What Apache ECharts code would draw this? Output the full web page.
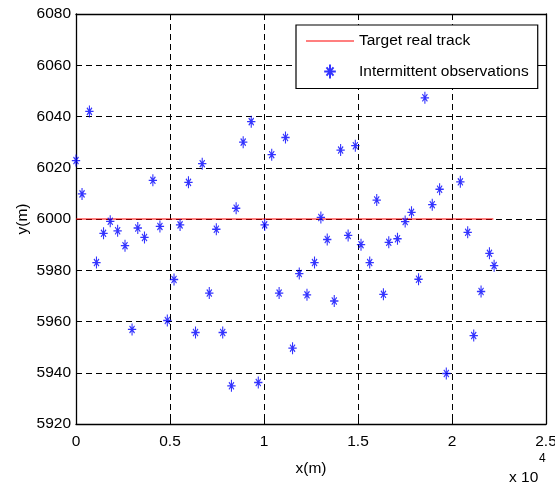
<!DOCTYPE html>
<html>
<head>
<meta charset="utf-8">
<script src="https://cdn.jsdelivr.net/npm/echarts@6/dist/echarts.min.js"></script>
<style>
  html, body { margin: 0; padding: 0; background: #fff; }
  #chart { width: 555px; height: 488px; }
</style>
</head>
<body>
<div id="chart"></div>
<script>
var trackX = [0, 22200];
var trackY = [6000, 6000];

var obsX = [0, 321, 714, 1089, 1464, 1821, 2214, 2607, 2982, 3286,
  3643, 4089, 4464, 4857, 5214, 5536, 5982, 6357, 6714, 7089,
  7464, 7804, 8268, 8518, 8893, 9321, 9696, 10036, 10411, 10804,
  11143, 11518, 11876, 12286, 12687, 13025, 13363, 13737, 14075, 14475,
  14858, 15160, 15623, 15996, 16352, 16637, 17100, 17509, 17846, 18220,
  18558, 18950, 19341, 19697, 20444, 20835, 21155, 21546, 21991, 22240];
var obsY = [6022.8, 6009.8, 6042, 5983, 5994.4, 5999.1, 5995.4, 5989.6, 5956.9, 5996.5,
  5992.8, 6015.1, 5997.1, 5960.4, 5976.4, 5997.7, 6014.3, 5955.7, 6021.6, 5971.1,
  5996, 5955.7, 5934.9, 6004.2, 6030, 6038, 5936.2, 5997.7, 6025.1, 5971.1,
  6031.8, 5949.6, 5978.7, 5970.4, 5983, 6000.6, 5992, 5968, 6026.9, 5993.6,
  6028.6, 5990, 5983, 6007.4, 5970.6, 5990.9, 5992.3, 5999, 6002.6, 5976.5,
  6047.3, 6005.6, 6011.6, 5939.7, 6014.5, 5994.8, 5954.5, 5971.7, 5986.6, 5981.8];

var seriesNames = ["Target real track", "Intermittent observations"];

var font = "'Liberation Sans', Arial, sans-serif";
var fs = 15.5;
var star = "path://M0,-6L0,6M-5,0L5,0M-3,-3.6L3,3.6M-3,3.6L3,-3.6";

var chartDom = document.getElementById("chart");
var chart = echarts.init(chartDom);

function pairs(xs, ys) {
  var out = [];
  for (var i = 0; i < xs.length; i++) out.push([xs[i], ys[i]]);
  return out;
}

var dashed = { show: true, lineStyle: { color: "#000", width: 1, type: [6, 4] } };
var axLine = { show: true, onZero: false, lineStyle: { color: "#000", width: 1.3 } };
var inTick = { show: true, inside: true, length: 5, lineStyle: { color: "#000" } };

var option = {
  animation: false,
  backgroundColor: "#fff",
  textStyle: { fontFamily: font },
  grid: {
    left: 76, right: 9, top: 14, bottom: 64,
    outerBoundsMode: "none",
    show: false
  },
  legend: {
    orient: "vertical",
    left: 296,
    top: 25,
    padding: [8, 9, 9, 10],
    itemWidth: 48,
    itemHeight: 14,
    itemGap: 14.5,
    borderColor: "#000",
    borderWidth: 1.2,
    backgroundColor: "#fff",
    textStyle: { fontFamily: font, fontSize: fs, color: "#000" },
    data: [
      { name: seriesNames[0], icon: "path://M0,0L48,0L48,1.2L0,1.2Z" },
      { name: seriesNames[1] }
    ]
  },
  xAxis: [{
    type: "value",
    min: 0, max: 25000, interval: 5000,
    name: "x(m)",
    nameLocation: "middle",
    nameGap: 37,
    nameMoveOverlap: false,
    nameTextStyle: { fontFamily: font, fontSize: fs, color: "#000" },
    axisLine: axLine,
    axisTick: inTick,
    axisLabel: {
      margin: 10, fontFamily: font, fontSize: fs, color: "#000",
      formatter: function (v) { return String(v / 10000); }
    },
    splitLine: dashed
  }, {
    type: "value", position: "top",
    min: 0, max: 25000, interval: 5000,
    axisLine: axLine,
    axisTick: inTick,
    axisLabel: { show: false },
    splitLine: { show: false }
  }],
  yAxis: [{
    type: "value",
    min: 5920, max: 6080, interval: 20,
    name: "y(m)",
    nameLocation: "middle",
    nameGap: 45,
    nameMoveOverlap: false,
    nameTextStyle: { fontFamily: font, fontSize: fs, color: "#000" },
    axisLine: axLine,
    axisTick: inTick,
    axisLabel: {
      margin: 5, fontFamily: font, fontSize: fs, color: "#000",
      formatter: function (v) { return String(v); }
    },
    splitLine: dashed
  }, {
    type: "value", position: "right",
    min: 5920, max: 6080, interval: 20,
    axisLine: axLine,
    axisTick: inTick,
    axisLabel: { show: false },
    splitLine: { show: false }
  }],
  graphic: [{
    type: "text",
    left: 509,
    top: 470,
    style: { text: "x 10", fontFamily: font, fontSize: fs, fill: "#000" }
  }, {
    type: "text",
    left: 539,
    top: 453,
    style: { text: "4", fontFamily: font, fontSize: 12, fill: "#000" }
  }],
  series: [{
    name: seriesNames[0],
    type: "line",
    data: pairs(trackX, trackY),
    symbol: "none",
    z: 3,
    lineStyle: { color: "#ff0000", width: 1.2 },
    itemStyle: { color: "#ff0000" }
  }, {
    name: seriesNames[1],
    type: "scatter",
    data: pairs(obsX, obsY),
    symbol: star,
    symbolKeepAspect: true,
    symbolSize: [10, 12],
    z: 4,
    itemStyle: { color: "#0000ff", borderColor: "#0000ff", borderWidth: 1.2 }
  }]
};

chart.setOption(option);
</script>
</body>
</html>
